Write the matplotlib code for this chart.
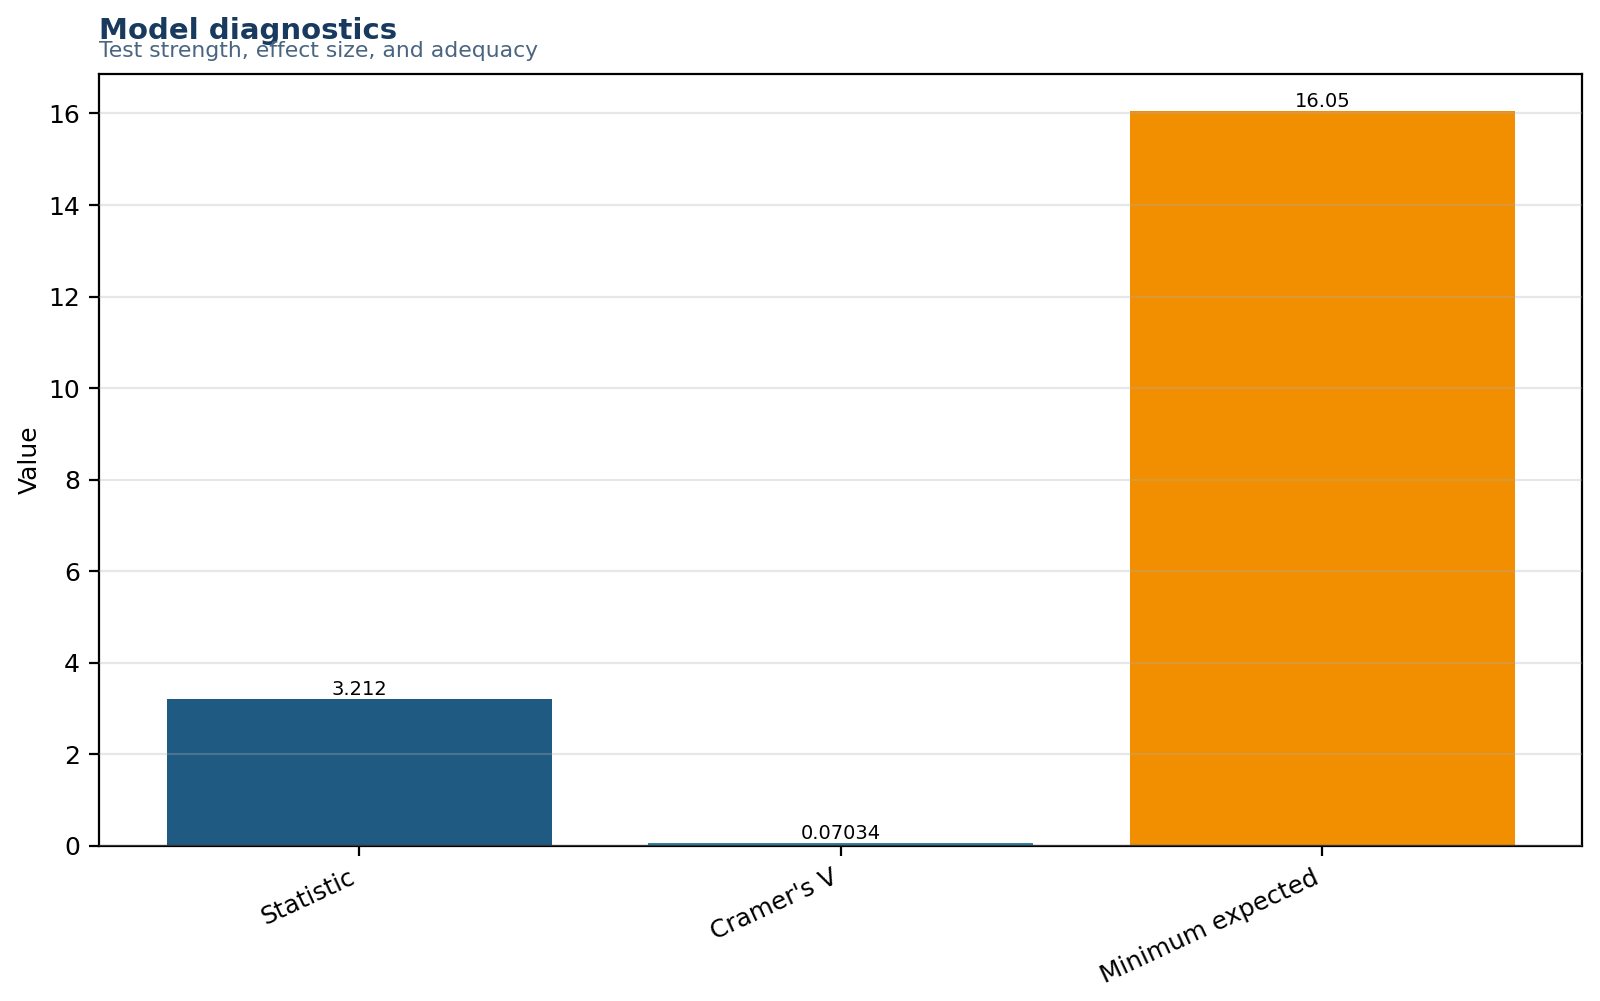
import matplotlib
matplotlib.use("Agg")
import matplotlib.pyplot as plt

categories = ["Statistic", "Cramer's V", "Minimum expected"]
values = [3.212, 0.07034, 16.05]
labels = ["3.212", "0.07034", "16.05"]
colors = ["#1f5a82", "#2e86ab", "#f18f01"]

fig = plt.figure(figsize=(8, 5.005), dpi=200)
ax = fig.add_axes([0.062, 0.155, 0.927, 0.7706])

x = range(len(categories))
bars = ax.bar(x, values, width=0.8, color=colors, linewidth=0)
for b, lab in zip(bars, labels):
    ax.text(b.get_x() + b.get_width() / 2, b.get_height(), lab,
            ha="center", va="bottom", fontsize=7)

ax.set_xticks(list(x))
ax.set_xticklabels(categories, rotation=25, ha="right", fontsize=8.9)
ax.tick_params(axis="y", labelsize=9)
ax.set_ylabel("Value", fontsize=9, labelpad=2.2)
ax.yaxis.grid(True, color="#b0b0b0", alpha=0.3, linewidth=0.8)
ax.set_axisbelow(False)

fig.text(0.062, 0.961, "Model diagnostics", fontsize=10.5, fontweight="bold",
         color="#173a5e", ha="left", va="baseline")
fig.text(0.062, 0.943, "Test strength, effect size, and adequacy", fontsize=7.9,
         color="#4a6580", ha="left", va="baseline")

fig.savefig("out.png", dpi=200)
